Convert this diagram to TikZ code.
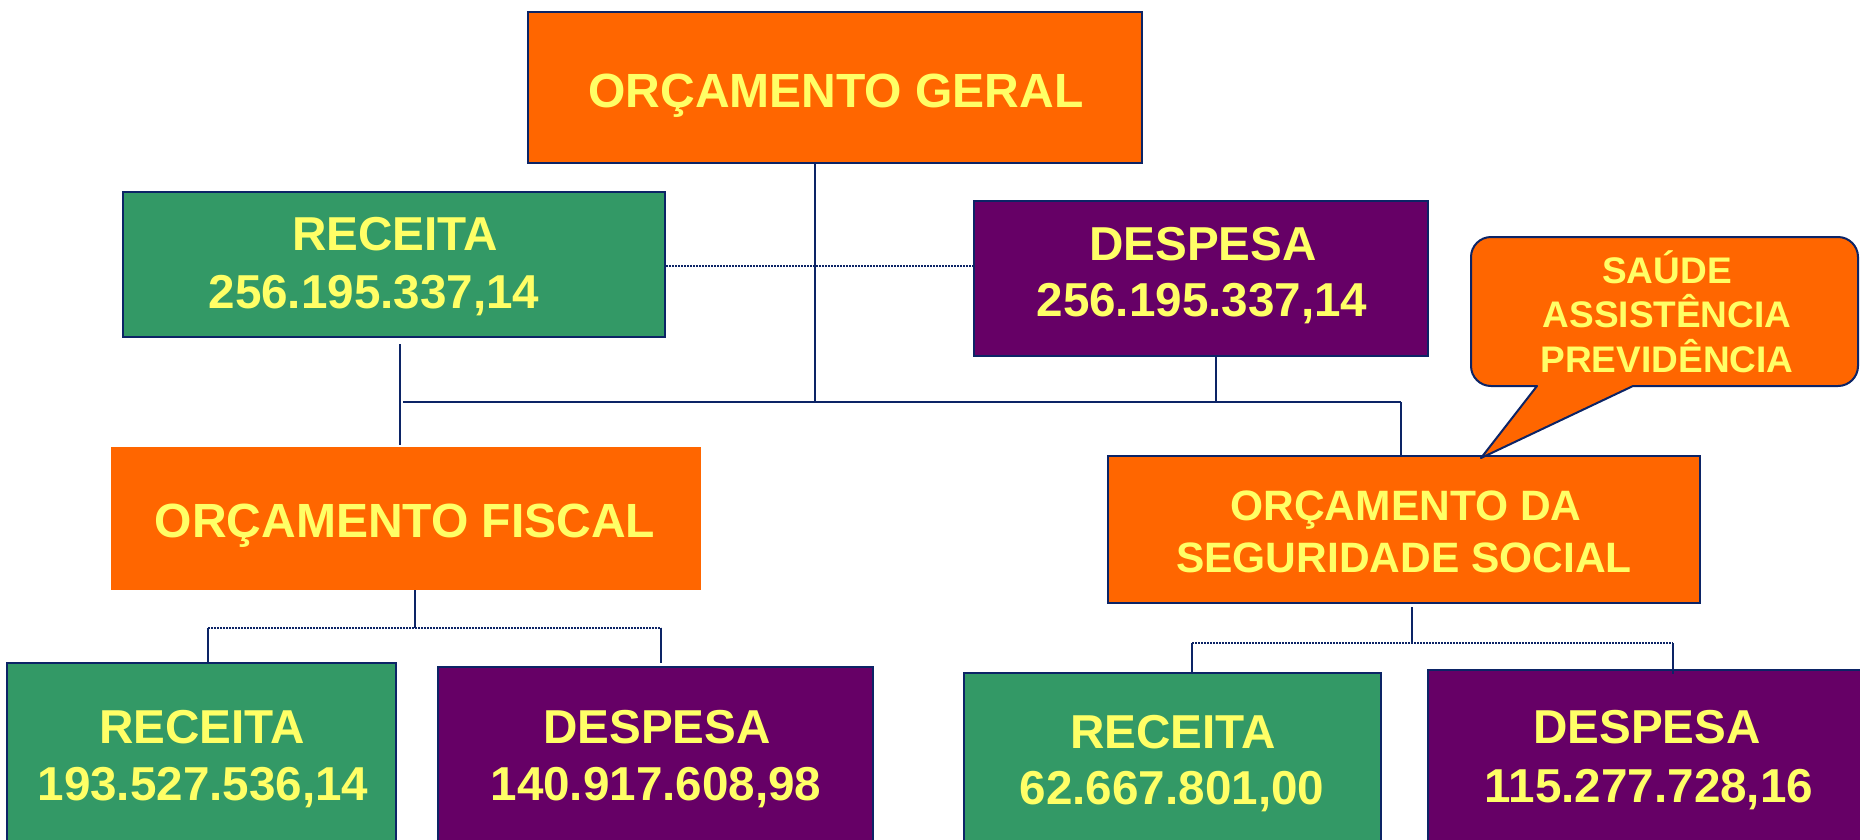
\documentclass[tikz,border=0pt]{standalone}
\usepackage{fontspec}
\setmainfont{Liberation Sans}
\definecolor{orng}{HTML}{FF6600}
\definecolor{grn}{HTML}{339966}
\definecolor{purp}{HTML}{660066}
\definecolor{ylw}{HTML}{FFFF66}
\definecolor{navy}{HTML}{0C2466}
\tikzset{
  box/.style={draw=navy, line width=2pt, inner sep=0pt, minimum width=#1},
  lbl/.style={text=ylw, anchor=base, inner sep=0pt, font=\bfseries\fontsize{48}{56}\selectfont},
  lblm/.style={text=ylw, anchor=base, inner sep=0pt, font=\bfseries\fontsize{47.6}{54}\selectfont},
  lbls/.style={text=ylw, anchor=base, inner sep=0pt, font=\bfseries\fontsize{42.5}{50}\selectfont},
  lblc/.style={text=ylw, anchor=base, inner sep=0pt, font=\bfseries\fontsize{37}{44}\selectfont},
  conn/.style={draw=navy, line width=1.8pt},
  dconn/.style={draw=navy, line width=1.8pt, dash pattern=on 1.6pt off 1.4pt},
}
\begin{document}
\begin{tikzpicture}[x=1pt,y=-1pt]
\useasboundingbox (0,0) rectangle (1860,839);
\clip (0,0) rectangle (1860,839);
\fill[white] (0,0) rectangle (1860,839);

% boxes
\node[box=614pt, fill=orng, minimum height=151pt] (geral) at (835,87.5) {};
\node[box=542pt, fill=grn, minimum height=145pt] (rectop) at (394,264.5) {};
\node[box=454pt, fill=purp, minimum height=155pt] (desptop) at (1201,278.5) {};
\node[fill=orng, inner sep=0pt, minimum width=590pt, minimum height=143pt] (fiscal) at (406,518.5) {};
\node[box=592pt, fill=orng, minimum height=147pt] (segur) at (1404,529.5) {};
\node[box=389pt, fill=grn, minimum height=197pt] (recL) at (201.5,761.5) {};
\node[box=435pt, fill=purp, minimum height=193pt] (despL) at (655.5,763.5) {};
\node[box=417pt, fill=grn, minimum height=187pt] (recR) at (1172.5,766.5) {};
\node[box=452pt, fill=purp, minimum height=190pt] (despR) at (1654,765) {};

% labels
\node[lbl] (tGeral) at (836,107) {ORÇAMENTO GERAL};
\node[lblm] (tRecTop) at (395,250) {RECEITA};
\node[lblm] (vRecTop) at (374,308) {256.195.337,14};
\node[lblm] (tDespTop) at (1203,260) {DESPESA};
\node[lblm] (vDespTop) at (1202,316) {256.195.337,14};
\node[lbl] (tFiscal) at (405,537) {ORÇAMENTO FISCAL};
\node[lbls] (tSeg1) at (1406,520) {ORÇAMENTO DA};
\node[lbls] (tSeg2) at (1404,572) {SEGURIDADE SOCIAL};
\node[lblm] (tRecL) at (202,743) {RECEITA};
\node[lblm] (vRecL) at (203,800) {193.527.536,14};
\node[lblm] (tDespL) at (657,743) {DESPESA};
\node[lblm] (vDespL) at (656,800) {140.917.608,98};
\node[lblm] (tRecR) at (1173,748) {RECEITA};
\node[lblm] (vRecR) at (1172,804) {62.667.801,00};
\node[lblm] (tDespR) at (1647,743) {DESPESA};
\node[lblm] (vDespR) at (1649,802) {115.277.728,16};

% connectors, top level
\coordinate (busL) at (403,402);
\coordinate (busR) at (1401,402);
\coordinate (jG) at (815,402);
\coordinate (jD) at (1216,402);
\coordinate (rT) at (400,344);
\coordinate (rB) at (400,445);
\draw[conn] (busL) -- (busR);
\draw[conn] (jG |- geral.south) -- (jG);
\draw[conn] (jD |- desptop.south) -- (jD);
\draw[conn] (rT) -- (rB);
\draw[conn] (busR) -- (busR |- segur.north);
\draw[dconn] (rectop.east |- 0,266) -- (desptop.west |- 0,266);

% fiscal branch
\coordinate (fJ) at (415,628);
\coordinate (fL) at (208,628);
\coordinate (fR) at (661,628);
\coordinate (fRb) at (661,663);
\draw[conn] (fJ |- fiscal.south) -- (fJ);
\draw[dconn] (fL) -- (fR);
\draw[conn] (fL) -- (fL |- recL.north);
\draw[conn] (fR) -- (fRb);

% seguridade branch
\coordinate (sT) at (1412,607);
\coordinate (sJ) at (1412,643);
\coordinate (sL) at (1192,643);
\coordinate (sR) at (1673,643);
\coordinate (sRb) at (1673,674);
\draw[conn] (sT) -- (sJ);
\draw[dconn] (sL) -- (sR);
\draw[conn] (sL) -- (sL |- recR.north);
\draw[conn] (sR) -- (sRb);

% callout
\draw[fill=orng, draw=navy, line width=2pt, line join=round]
  (1537,386) -- (1491,386) .. controls (1480,386) and (1471,377) .. (1471,366)
  -- (1471,257) .. controls (1471,246) and (1480,237) .. (1491,237)
  -- (1838,237) .. controls (1849,237) and (1858,246) .. (1858,257)
  -- (1858,366) .. controls (1858,377) and (1849,386) .. (1838,386)
  -- (1633,386) -- (1481,458) -- cycle;
\node[lblc] (c1) at (1667,283) {SAÚDE};
\node[lblc] (c2) at (1667,327) {ASSISTÊNCIA};
\node[lblc] (c3) at (1667,372) {PREVIDÊNCIA};
\end{tikzpicture}
\end{document}
